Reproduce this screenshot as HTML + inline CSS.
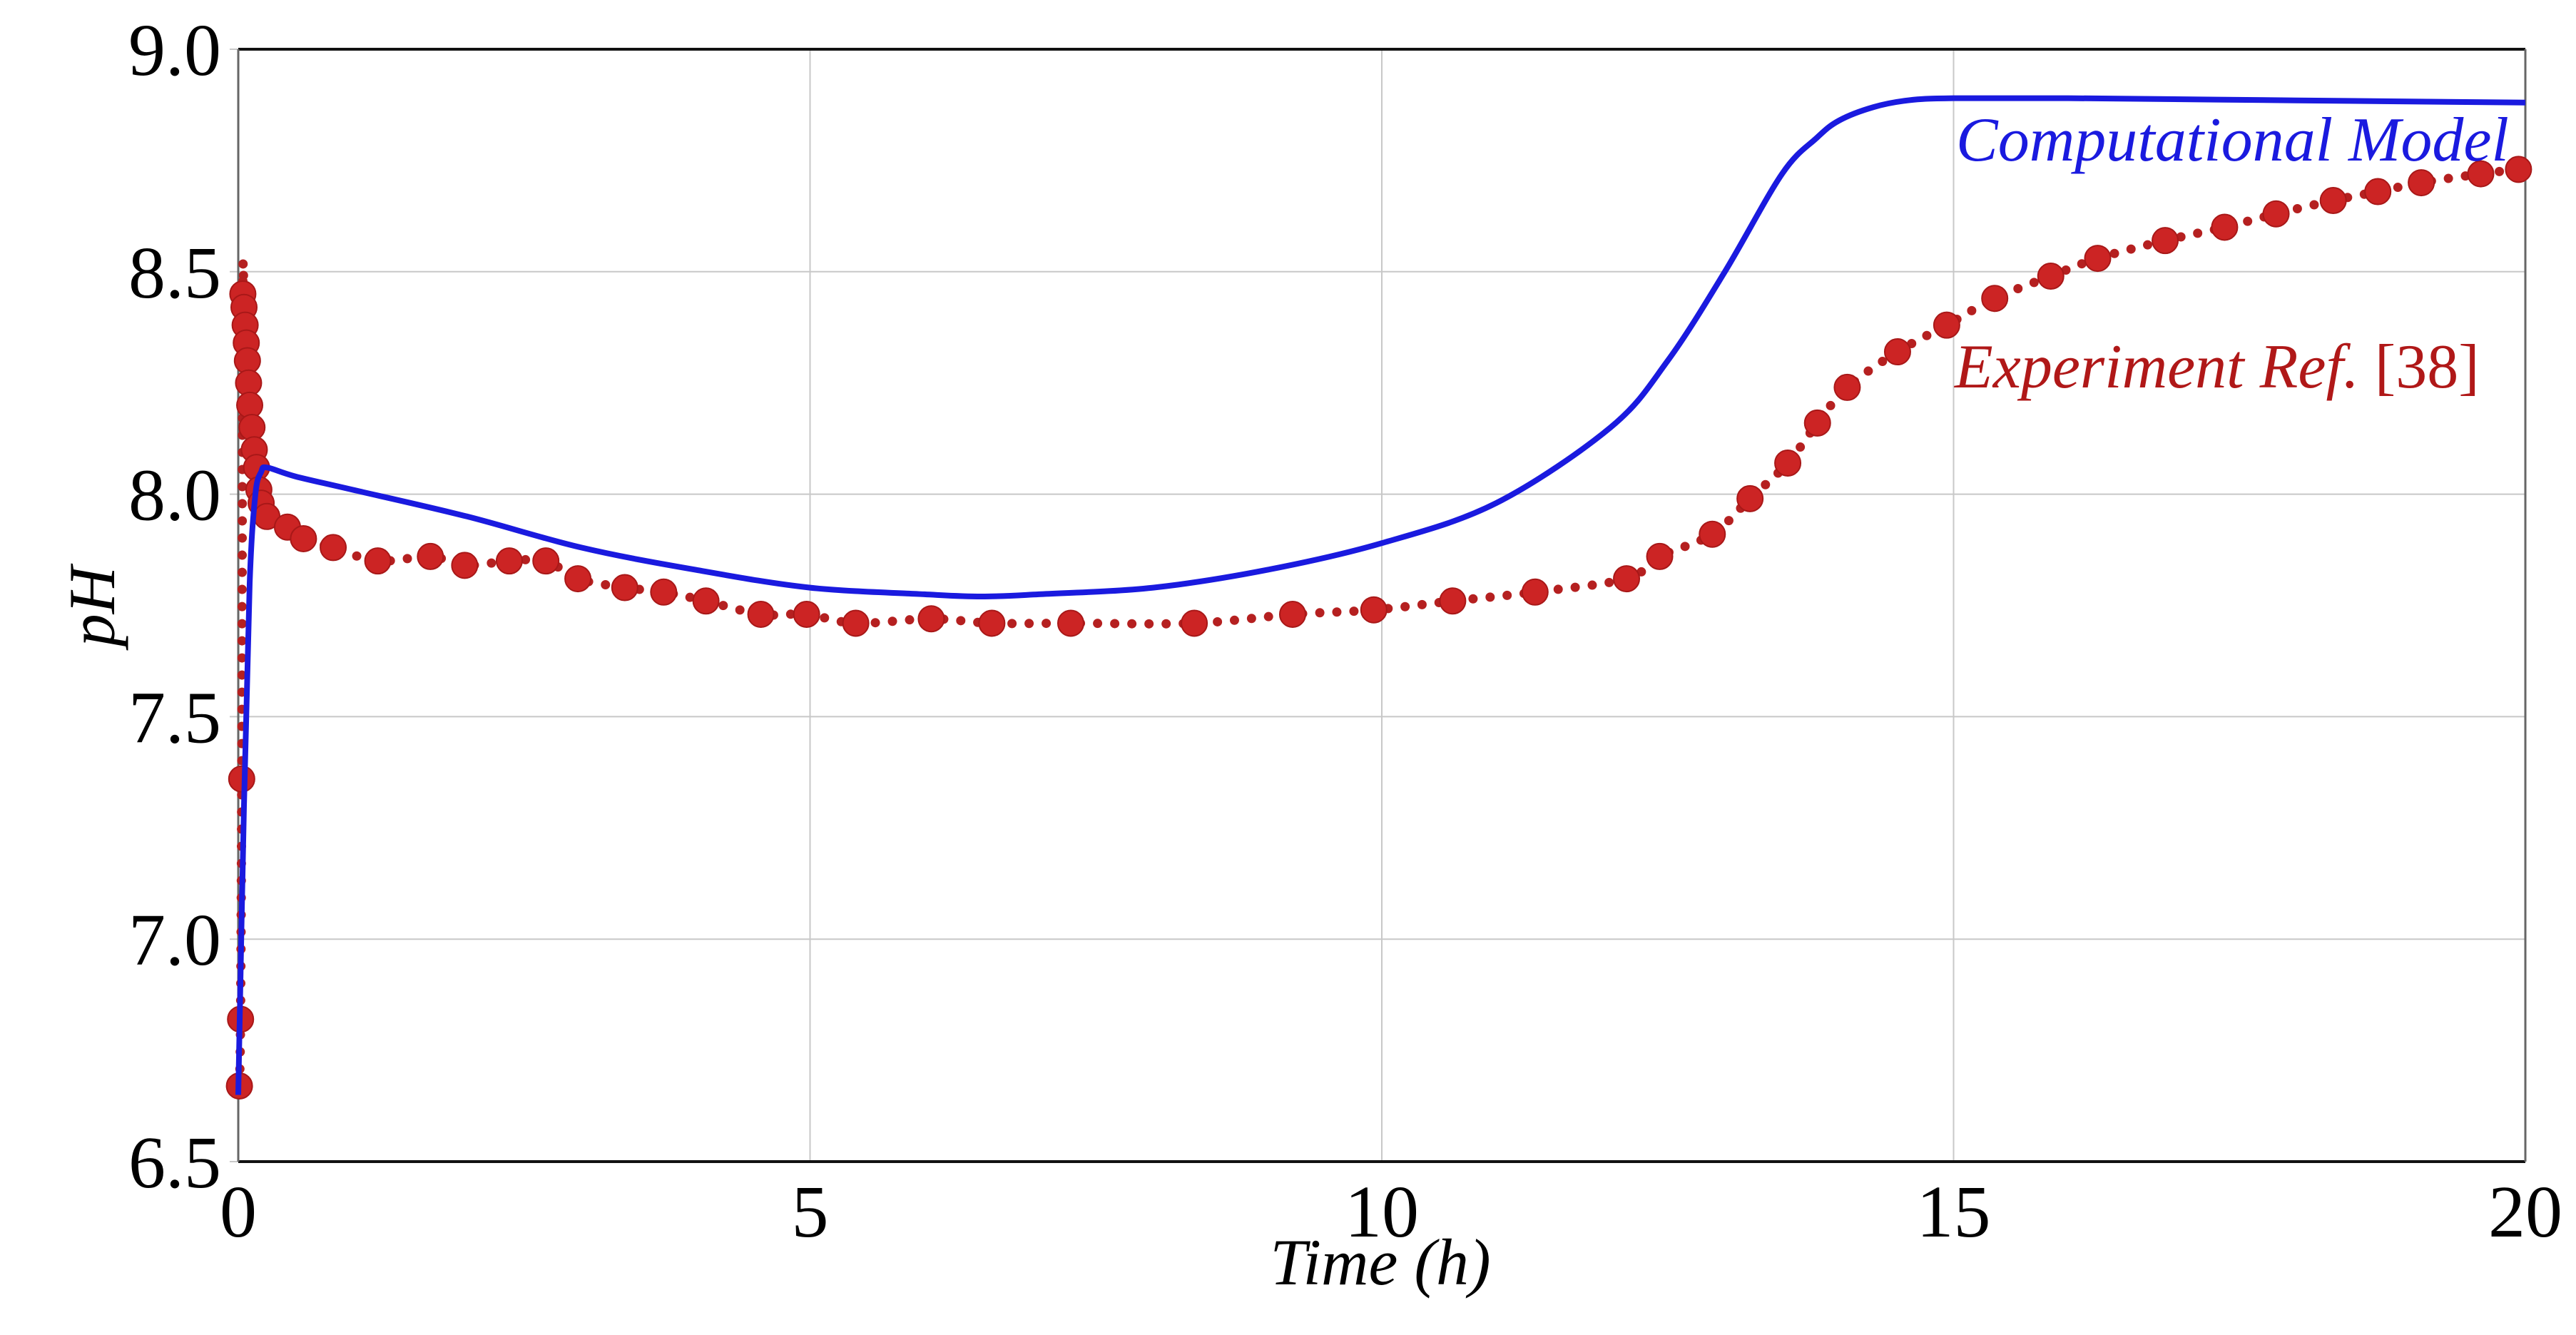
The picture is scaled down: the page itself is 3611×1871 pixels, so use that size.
<!DOCTYPE html>
<html><head><meta charset="utf-8"><style>
html,body{margin:0;padding:0;background:#fff;}
svg{display:block;font-family:"Liberation Serif",serif;}
</style></head><body>
<svg id="chart" width="3611" height="1871" viewBox="0 0 3611 1871">
<g id="grid"></g>
<g id="axes"></g>
<g id="series"></g>
<text x="2742" y="225" font-size="88" font-style="italic" fill="#1a1adf">Computational Model</text>
<text x="2740" y="543" font-size="88" fill="#b01818"><tspan font-style="italic">Experiment Ref.</tspan> [38]</text>
<text x="1935" y="1800" font-size="92" font-style="italic" text-anchor="middle">Time (h)</text>
<text transform="translate(160,850) rotate(-90)" font-size="92" font-style="italic" text-anchor="middle">pH</text>
</svg>
<script>
const xTicks=[0,5,10,15,20];
const yTicks=[6.5,7.0,7.5,8.0,8.5,9.0];
const yTickLabels=["6.5","7.0","7.5","8.0","8.5","9.0"];
const modelT=[0,0.05,0.1,0.15,0.2,0.25,0.5,1,2,3,4,5,6,6.5,7,8,9,10,11,12,12.5,13,13.5,13.8,14,14.3,14.6,15,16,18,20];
const modelPH=[6.65,7.3,7.8,8.0,8.05,8.06,8.04,8.01,7.95,7.88,7.83,7.79,7.775,7.77,7.775,7.79,7.83,7.89,7.98,8.15,8.3,8.5,8.72,8.80,8.84,8.87,8.885,8.89,8.89,8.885,8.88];
const expT=[0.01,0.02,0.03,0.04,0.05,0.06,0.07,0.08,0.09,0.10,0.12,0.14,0.16,0.18,0.20,0.25,0.43,0.57,0.83,1.22,1.68,1.98,2.37,2.69,2.97,3.38,3.72,4.09,4.57,4.97,5.40,6.06,6.59,7.28,8.36,9.22,9.93,10.62,11.34,12.14,12.43,12.89,13.22,13.55,13.81,14.07,14.51,14.94,15.36,15.85,16.26,16.85,17.37,17.82,18.32,18.71,19.09,19.61,19.94];
const expPH=[6.67,6.82,7.36,8.45,8.42,8.38,8.34,8.30,8.25,8.20,8.15,8.10,8.06,8.01,7.98,7.95,7.926,7.90,7.88,7.85,7.86,7.84,7.85,7.85,7.81,7.79,7.78,7.76,7.73,7.73,7.71,7.72,7.71,7.71,7.71,7.73,7.74,7.76,7.78,7.81,7.86,7.91,7.99,8.07,8.16,8.24,8.32,8.38,8.44,8.49,8.53,8.57,8.60,8.63,8.66,8.68,8.70,8.72,8.73];
const NS="http://www.w3.org/2000/svg";
const X0=334,X1=3540,Y0=1628,Y1=69;
function sx(t){return X0+(t-0)/(20-0)*(X1-X0);}
function sy(p){return Y0-(p-6.5)/(9.0-6.5)*(Y0-Y1);}
function mk(tag,attrs,parent){const e=document.createElementNS(NS,tag);for(const k in attrs)e.setAttribute(k,attrs[k]);parent.appendChild(e);return e;}
function smooth(pts){
  let d='M'+pts[0][0].toFixed(1)+','+pts[0][1].toFixed(1);
  for(let i=0;i<pts.length-1;i++){
    const p0=pts[Math.max(0,i-1)],p1=pts[i],p2=pts[i+1],p3=pts[Math.min(pts.length-1,i+2)];
    const c1=[p1[0]+(p2[0]-p0[0])/6,p1[1]+(p2[1]-p0[1])/6];
    const c2=[p2[0]-(p3[0]-p1[0])/6,p2[1]-(p3[1]-p1[1])/6];
    d+='C'+c1[0].toFixed(1)+','+c1[1].toFixed(1)+' '+c2[0].toFixed(1)+','+c2[1].toFixed(1)+' '+p2[0].toFixed(1)+','+p2[1].toFixed(1);
  }
  return d;
}
const grid=document.getElementById('grid'),axes=document.getElementById('axes'),series=document.getElementById('series');
xTicks.forEach(t=>{
  const l=mk('line',{x1:sx(t),x2:sx(t),y1:Y1,y2:Y0,stroke:'#c8c8c8','stroke-width':2},grid);
  
  
  const tx=mk('text',{x:sx(t),y:1733,'font-size':104,'text-anchor':'middle'},axes);
  tx.textContent=String(t);
  
  
});
yTicks.forEach((p,i)=>{
  const l=mk('line',{x1:X0-12,x2:X1,y1:sy(p),y2:sy(p),stroke:'#c8c8c8','stroke-width':2},grid);
  
  
  const tx=mk('text',{x:X0-24,y:sy(p)+36,'font-size':104,'text-anchor':'end'},axes);
  tx.textContent=yTickLabels[i];
  
  
});
const frame=[[X0,Y1,X1,Y1,'#111',4],[X0,Y0,X1,Y0,'#111',4],[X0,Y1,X0,Y0,'#666',3],[X1,Y1,X1,Y0,'#666',3]];
frame.forEach(f=>{
  const l=mk('line',{x1:f[0],y1:f[1],x2:f[2],y2:f[3],stroke:f[4],'stroke-width':f[5]},axes);
  
  
});
const ePts=expT.map((t,i)=>[sx(t),sy(expPH[i])]);
const ep=mk('path',{d:smooth(ePts),fill:'none',stroke:'#b52020','stroke-width':13,'stroke-dasharray':'0 24','stroke-linecap':'round'},series);


expT.forEach((t,i)=>{
  const c=mk('circle',{cx:sx(t),cy:sy(expPH[i]),r:18,fill:'#cc2424',stroke:'#a81818','stroke-width':2},series);
  
  
});
const mPts=modelT.map((t,i)=>[sx(t),sy(modelPH[i])]);
const mp=mk('path',{d:smooth(mPts),fill:'none',stroke:'#1a1adf','stroke-width':8,'stroke-linejoin':'round'},series);


</script>
</body></html>
